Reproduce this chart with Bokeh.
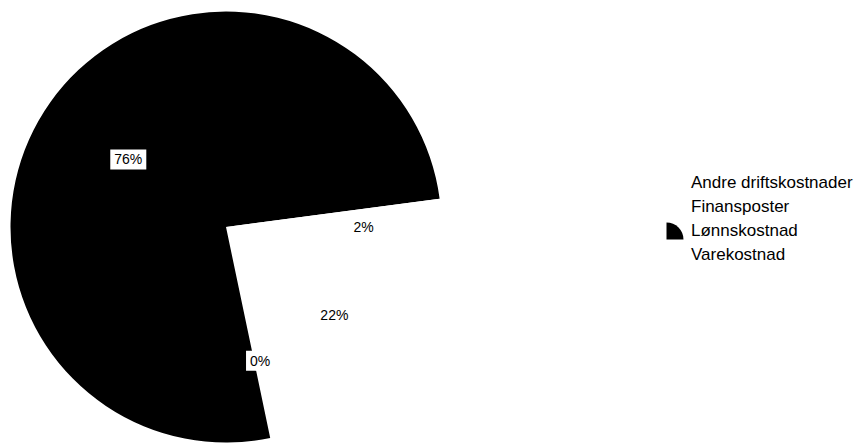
import math
from bokeh.plotting import figure
from bokeh.models import ColumnDataSource, Range1d, Legend, LegendItem, Label
from bokeh.embed import file_html
from bokeh.resources import INLINE

# ---- data ----
categories = ["Andre driftskostnader", "Finansposter", "Lønnskostnad", "Varekostnad"]
shares = [21.9, 0.2, 76.2, 1.7]
pct_labels = ["22%", "0%", "76%", "2%"]
colors = ["white", "white", "black", "white"]

# ---- layout ----
W, H = 862, 444
CX, CY, R = 225.5, H - 226.5, 215.5
START_DEG = 1.4
LABEL_R = [0.65, 0.64, 0.55, 0.64]
LABEL_NUDGE = [(-2, -2), (5, 1), (-1, -1), (0, -11)]
FONT = "Liberation Sans"
LEG_X, LEG_TOP = 666, 172
ROW_H, ROW_GAP, KEY = 21, 3, 17

total = sum(shares)
starts, ends, lx, ly = [], [], [], []
a = math.radians(START_DEG)
for s, lr in zip(shares, LABEL_R):
    span = 2 * math.pi * s / total
    starts.append(a)
    ends.append(a - span)
    mid = a - span / 2
    lx.append(CX + lr * R * math.cos(mid))
    ly.append(CY + lr * R * math.sin(mid))
    a -= span

src = ColumnDataSource(dict(
    cat=categories, start=starts, end=ends, color=colors,
    x=[CX] * len(shares), y=[CY] * len(shares),
))

p = figure(width=W, height=H, x_range=Range1d(0, W), y_range=Range1d(0, H),
           output_backend="svg", toolbar_location=None, min_border=0,
           x_axis_type=None, y_axis_type=None)
p.grid.visible = False
p.outline_line_color = None
p.background_fill_color = "white"
p.border_fill_color = "white"

r = p.wedge(x="x", y="y", radius=R, start_angle="start", end_angle="end",
            direction="clock", fill_color="color", line_color=None, source=src)

for (x, y, t), (dx, dy) in zip(zip(lx, ly, pct_labels), LABEL_NUDGE):
    p.add_layout(Label(x=x, y=y, x_offset=dx, y_offset=dy, text=t,
                       text_align="center", text_baseline="middle",
                       text_font=FONT, text_font_size="14px", text_color="black",
                       background_fill_color="white",
                       padding=dict(left=4, right=4, top=2, bottom=2)))

# legend keys drawn as small quarter-pie wedges (like the reference legend)
n = len(categories)
key_src = ColumnDataSource(dict(
    x=[LEG_X] * n,
    y=[H - (LEG_TOP + i * (ROW_H + ROW_GAP) + ROW_H / 2 + KEY / 2) for i in range(n)],
    color=colors,
))
p.wedge(x="x", y="y", radius=KEY, start_angle=0, end_angle=math.pi / 2,
        fill_color="color", line_color=None, source=key_src)

# invisible proxy renderer so the Legend only draws labels
proxy = p.wedge(x="x", y="y", radius=0, start_angle="start", end_angle="end",
                fill_alpha=0, line_alpha=0, source=src)

items = [LegendItem(label=c, renderers=[proxy], index=i) for i, c in enumerate(categories)]
leg_h = n * ROW_H + (n - 1) * ROW_GAP
legend = Legend(items=items, location=(LEG_X, H - LEG_TOP - leg_h),
                label_text_font=FONT, label_text_font_size="17px", label_text_color="black",
                glyph_width=KEY, glyph_height=KEY, label_height=ROW_H, spacing=ROW_GAP,
                label_standoff=8, padding=0, margin=0,
                border_line_color=None, background_fill_alpha=0)
p.add_layout(legend)

open("out.html", "w").write(file_html(p, INLINE))
